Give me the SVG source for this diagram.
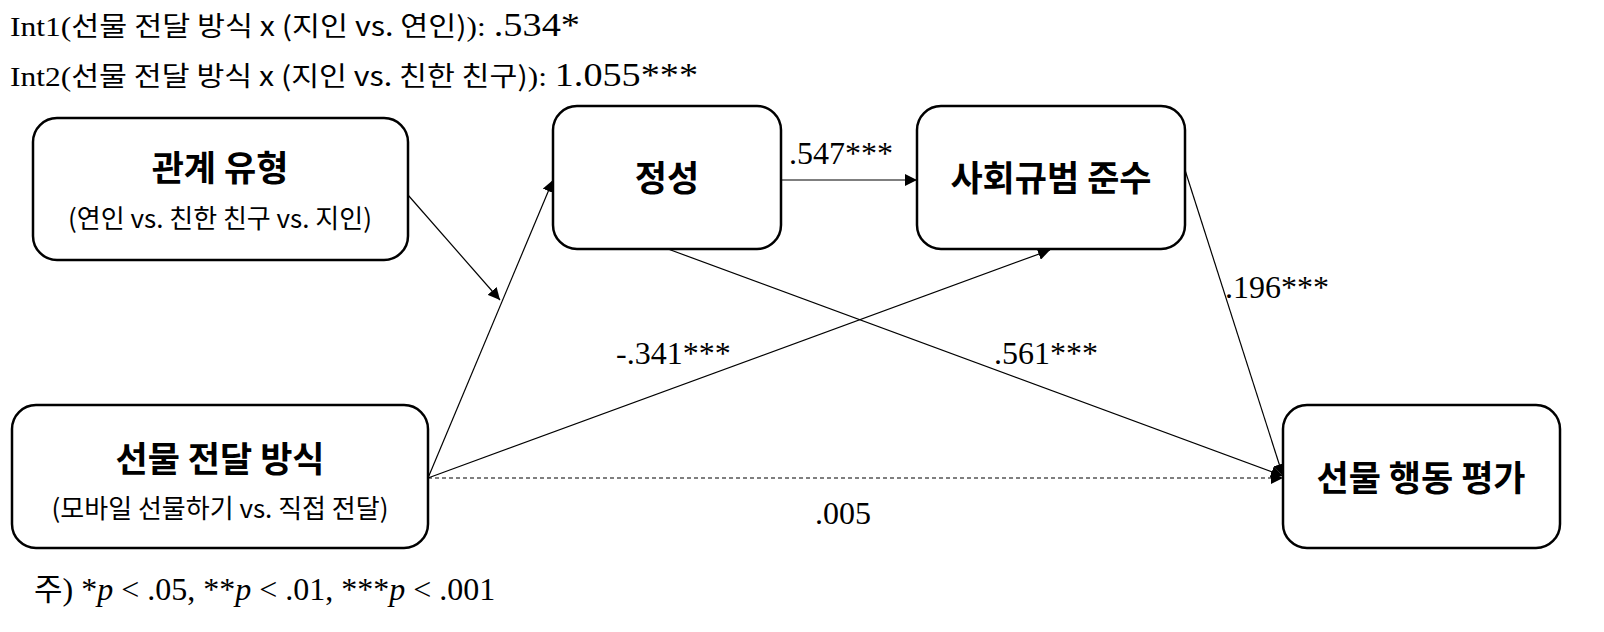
<svg xmlns="http://www.w3.org/2000/svg" width="1604" height="632" viewBox="0 0 1604 632">
<style>
.box{fill:#fff;stroke:#000;stroke-width:2.5}
.t{font-family:"Noto Sans CJK KR","Noto Sans",sans-serif;fill:#000;text-anchor:middle}
.b{font-size:35px;font-weight:bold}
.s{font-size:26px}
.r{font-family:"Liberation Serif","Noto Sans CJK KR",serif;fill:#000}
.k{font-family:"Noto Sans CJK KR",sans-serif}
.e{stroke:#000;stroke-width:1.2;fill:none}
</style>
<defs><marker id="a" viewBox="0 0 10 10" refX="10" refY="5" markerWidth="12" markerHeight="12" markerUnits="userSpaceOnUse" orient="auto"><path d="M0,0L10,5L0,10z" fill="#000"/></marker></defs>
<g id="notes">
<text class="r" x="10" y="36" font-size="28" textLength="570" lengthAdjust="spacingAndGlyphs">Int1(<tspan class="k" font-size="27">선물 전달 방식 x (지인 vs. 연인)</tspan>): <tspan font-size="34">.534*</tspan></text>
<text class="r" x="10" y="86" font-size="28" textLength="688" lengthAdjust="spacingAndGlyphs">Int2(<tspan class="k" font-size="27">선물 전달 방식 x (지인 vs. 친한 친구)</tspan>): <tspan font-size="34">1.055***</tspan></text>
<text class="r" x="34" y="600" font-size="32"><tspan class="k" font-size="31">주</tspan>) *<tspan font-style="italic">p</tspan> &lt; .05, **<tspan font-style="italic">p</tspan> &lt; .01, ***<tspan font-style="italic">p</tspan> &lt; .001</text>
</g>
<g id="edges">
<line class="e" x1="408" y1="195" x2="500" y2="300" marker-end="url(#a)"/>
<line class="e" x1="428" y1="478" x2="553" y2="180" marker-end="url(#a)"/>
<line class="e" x1="428" y1="478" x2="1050" y2="250" marker-end="url(#a)"/>
<line class="e" x1="428" y1="478" x2="1283" y2="478" stroke-dasharray="4,3" stroke="#666" marker-end="url(#a)"/>
<line class="e" x1="781" y1="180" x2="917" y2="180" marker-end="url(#a)"/>
<line class="e" x1="668" y1="249" x2="1283" y2="476" marker-end="url(#a)"/>
<line class="e" x1="1185" y1="170" x2="1283" y2="476" marker-end="url(#a)"/>
<g class="r" font-size="32">
<text x="789" y="164">.547***</text>
<text x="1225" y="298">.196***</text>
<text x="616" y="364">-.341***</text>
<text x="994" y="364">.561***</text>
<text x="815" y="524">.005</text>
</g>
</g>
<g id="n1"><rect class="box" x="33" y="118" width="375" height="142" rx="24"/><text class="t b" x="220" y="181">관계 유형</text><text class="t s" x="220" y="228">(연인 vs. 친한 친구 vs. 지인)</text></g>
<g id="n2"><rect class="box" x="12" y="405" width="416" height="143" rx="24"/><text class="t b" x="220" y="472">선물 전달 방식</text><text class="t s" x="220" y="518">(모바일 선물하기 vs. 직접 전달)</text></g>
<g id="n3"><rect class="box" x="553" y="106" width="228" height="143" rx="24"/><text class="t b" x="667" y="191">정성</text></g>
<g id="n4"><rect class="box" x="917" y="106" width="268" height="143" rx="24"/><text class="t b" x="1051" y="191">사회규범 준수</text></g>
<g id="n5"><rect class="box" x="1283" y="405" width="277" height="143" rx="24"/><text class="t b" x="1421" y="491">선물 행동 평가</text></g>
</svg>
